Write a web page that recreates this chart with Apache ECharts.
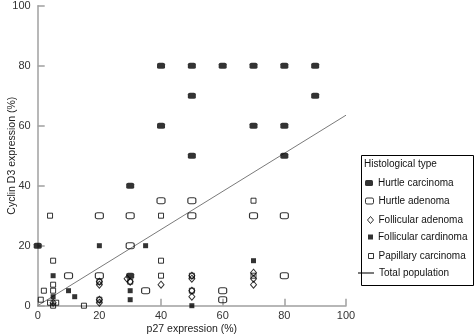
<!DOCTYPE html>
<html>
<head>
<meta charset="utf-8">
<script src="https://cdn.jsdelivr.net/npm/echarts@6/dist/echarts.min.js"></script>
<style>
  html, body { margin: 0; padding: 0; background: #fff; }
  #chart { width: 475px; height: 336px; }
</style>
</head>
<body>
<div id="chart"></div>
<script>
// values (p27 %, cyclin D3 %)
const hurtleCarcinomaX = [0, 30, 30, 40, 50, 60, 70, 80, 90, 50, 90, 40, 70, 80, 50, 80];
const hurtleCarcinomaY = [20, 40, 10, 80, 80, 80, 80, 80, 80, 70, 70, 60, 60, 60, 50, 50];

const hurtleAdenomaX = [20, 30, 50, 70, 80, 40, 50, 30, 10, 20, 35, 60, 60, 80];
const hurtleAdenomaY = [30, 30, 30, 30, 30, 35, 35, 20, 10, 10, 5, 5, 2, 10];

const follAdenomaX = [5, 20, 20, 20, 20, 29, 30, 40, 50, 50, 50, 50, 70, 70, 70];
const follAdenomaY = [1, 8, 7, 2, 1, 9, 8, 7, 10, 9, 5, 3, 11, 9, 7];

const follCarcinomaX = [20, 35, 5, 5, 10, 12, 30, 30, 50, 70];
const follCarcinomaY = [20, 20, 10, 3, 5, 3, 5, 2, 0, 15];

const papillaryX = [4, 5, 5, 5, 2, 1, 4, 6, 5, 15, 40, 40, 40, 70, 20, 20, 30, 50, 50, 70];
const papillaryY = [30, 15, 7, 5, 5, 2, 1, 1, 0, 0, 30, 15, 10, 35, 8, 2, 8, 10, 5, 10];

const totalX = [0, 100];
const totalY = [0, 63.5];

const axisTicks = [0, 20, 40, 60, 80, 100];

const names = ['Hurtle carcinoma', 'Hurtle adenoma', 'Follicular adenoma', 'Follicular cardinoma', 'Papillary carcinoma', 'Total population'];

const zip = (xs, ys) => xs.map((x, i) => [x, ys[i]]);

const font = 'Liberation Sans, Arial, sans-serif';
const axisGray = '#a0a0a0';

const chart = echarts.init(document.getElementById('chart'));

const axisCommon = {
  min: axisTicks[0],
  max: axisTicks[axisTicks.length - 1],
  interval: 20,
  nameLocation: 'middle',
  nameMoveOverlap: false,
  nameTextStyle: { color: '#222', fontSize: 10.5, fontFamily: font },
  axisLine: { lineStyle: { color: axisGray, width: 1.5 } },
  axisTick: { inside: true, length: 7, lineStyle: { color: axisGray, width: 1.5 } },
  axisLabel: { color: '#333', fontSize: 11, fontFamily: font },
  splitLine: { show: false },
};

const openStyle = { color: 'transparent', borderColor: '#000', borderWidth: 1 };

// one small legend per row so each icon keeps its own size
const legendRows = [
  { name: names[0], w: 8, h: 6, y: 184, open: false },
  { name: names[1], w: 8, h: 6, y: 202, open: true },
  { name: names[2], w: 6, h: 7, y: 221, open: true },
  { name: names[3], w: 5, h: 5, y: 238, open: false },
  { name: names[4], w: 5, h: 5, y: 257, open: true },
  { name: names[5], w: 16, h: 2, y: 274, open: false },
];
const textLeft = 378;

const option = {
  animation: false,
  backgroundColor: '#fff',
  grid: { left: 37.7, right: 129, top: 5.7, bottom: 30.3, containLabel: false, outerBoundsMode: 'none' },
  xAxis: Object.assign({}, axisCommon, {
    type: 'value',
    name: 'p27 expression (%)',
    nameGap: 18,
    axisLabel: Object.assign({}, axisCommon.axisLabel, { margin: 5 }),
  }),
  yAxis: Object.assign({}, axisCommon, {
    type: 'value',
    name: 'Cyclin D3 expression (%)',
    nameGap: 20,
    axisLabel: Object.assign({}, axisCommon.axisLabel, { margin: 7 }),
  }),
  legend: legendRows.map((r) => ({
    data: [r.name],
    left: textLeft - 5 - r.w,
    top: r.y - 6,
    padding: 0,
    itemWidth: r.w,
    itemHeight: r.h,
    itemGap: 0,
    selectedMode: false,
    itemStyle: r.open ? { borderWidth: 1 } : {},
    textStyle: { color: '#111', fontSize: 10, fontFamily: font },
  })),
  graphic: [
    {
      type: 'rect',
      shape: { x: 361.5, y: 155.5, width: 112, height: 130 },
      style: { fill: 'none', stroke: '#000', lineWidth: 1 },
      z: 100,
    },
    {
      type: 'text',
      left: 364,
      top: 159,
      style: { text: 'Histological type', fill: '#111', fontSize: 10, fontFamily: font },
      z: 100,
    },
  ],
  series: [
    {
      name: names[5],
      type: 'line',
      data: zip(totalX, totalY),
      symbol: 'none',
      lineStyle: { color: '#7a7a7a', width: 1 },
      itemStyle: { color: '#7a7a7a' },
      z: 1,
    },
    {
      name: names[0],
      type: 'scatter',
      data: zip(hurtleCarcinomaX, hurtleCarcinomaY),
      symbol: 'roundRect',
      symbolSize: [8, 6],
      itemStyle: { color: '#000' },
      z: 3,
    },
    {
      name: names[1],
      type: 'scatter',
      data: zip(hurtleAdenomaX, hurtleAdenomaY),
      symbol: 'roundRect',
      symbolSize: [8, 6],
      itemStyle: openStyle,
      z: 3,
    },
    {
      name: names[2],
      type: 'scatter',
      data: zip(follAdenomaX, follAdenomaY),
      symbol: 'diamond',
      symbolSize: [6, 7],
      itemStyle: openStyle,
      z: 3,
    },
    {
      name: names[3],
      type: 'scatter',
      data: zip(follCarcinomaX, follCarcinomaY),
      symbol: 'rect',
      symbolSize: 5,
      itemStyle: { color: '#000' },
      z: 3,
    },
    {
      name: names[4],
      type: 'scatter',
      data: zip(papillaryX, papillaryY),
      symbol: 'rect',
      symbolSize: 5,
      itemStyle: openStyle,
      z: 3,
    },
  ],
};

chart.setOption(option);
</script>
</body>
</html>
